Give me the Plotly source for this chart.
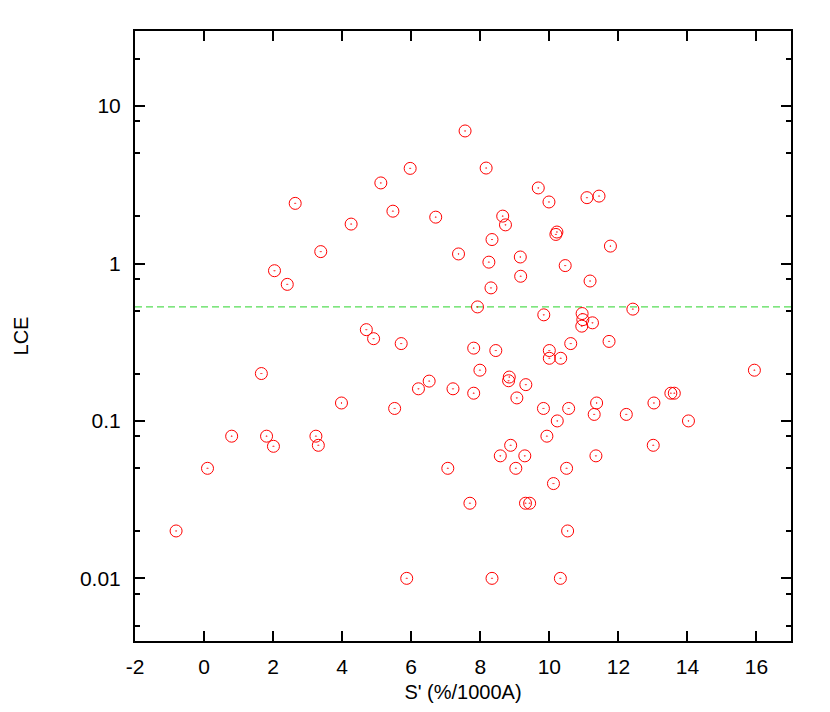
"""Scatter of LCE against S' on a log y axis."""

import plotly.graph_objects as go

# S' (%/1000A) values
s_prime = [
    7.56, 5.97, 8.17, 5.12, 9.68, 2.64, 9.99, 11.09, 11.44, 5.47,
    8.65, 6.71, 8.73, 4.26, 8.34, 10.22, 10.19, 11.77, 3.38, 7.37,
    9.16, 8.25, 10.46, 2.04, 9.17, 11.18, 2.41, 8.31, 7.92, 12.42,
    9.84, 10.95, 10.97, 10.94, 11.25, 4.70, 4.91, 5.71, 10.62, 11.73,
    7.81, 8.45, 10.00, 10.00, 10.33, 1.66, 7.99, 15.94, 6.52, 6.21,
    7.21, 8.84, 8.82, 9.32, 7.81, 9.06, 3.98, 11.37, 13.03, 13.52,
    13.62, 5.52, 9.83, 10.56, 11.30, 12.23, 0.80, 1.81, 3.24, 2.01,
    3.31, 14.03, 10.23, 9.93, 8.88, 13.01, 8.58, 9.29, 11.35, 0.10,
    7.06, 9.03, 10.50, 10.12, 7.70, 9.31, 9.43, -0.81, 10.53, 5.87,
    8.34, 10.32,
]

# LCE values
lce = [
    6.95, 4.02, 4.04, 3.25, 3.02, 2.41, 2.46, 2.62, 2.68, 2.15,
    2.00, 1.97, 1.76, 1.78, 1.42, 1.585, 1.53, 1.29, 1.19, 1.15,
    1.10, 1.02, 0.97, 0.90, 0.83, 0.774, 0.737, 0.70, 0.53, 0.513,
    0.472, 0.481, 0.44, 0.40, 0.42, 0.38, 0.333, 0.31, 0.31, 0.32,
    0.29, 0.28, 0.28, 0.25, 0.25, 0.20, 0.21, 0.21, 0.179, 0.16,
    0.16, 0.19, 0.18, 0.17, 0.15, 0.14, 0.13, 0.13, 0.13, 0.15,
    0.15, 0.12, 0.12, 0.12, 0.11, 0.11, 0.08, 0.08, 0.08, 0.069,
    0.07, 0.10, 0.10, 0.08, 0.07, 0.07, 0.06, 0.06, 0.06, 0.05,
    0.05, 0.05, 0.05, 0.04, 0.03, 0.03, 0.03, 0.02, 0.02, 0.01,
    0.01, 0.01,
]

lce_reference = 0.53

x_ticks = [-2, 0, 2, 4, 6, 8, 10, 12, 14, 16]
x_tick_text = ["-2", "0", "2", "4", "6", "8", "10", "12", "14", "16"]
y_major = [0.01, 0.1, 1, 10]
y_major_text = ["0.01", "0.1", "1", "10"]
y_minor = [0.005, 0.008, 0.02, 0.05, 0.08, 0.2, 0.5, 0.8, 2, 5, 8, 20]

font_family = "Liberation Sans, Arial, sans-serif"

fig = go.Figure()

fig.add_trace(
    go.Scatter(
        x=s_prime, y=lce,
        mode="markers",
        marker=dict(
            symbol="circle-open-dot", size=12, color="#ff0000",
            line=dict(width=1, color="#ff0000"),
        ),
        showlegend=False,
    )
)

# horizontal reference line
fig.add_shape(
    type="line", xref="paper", x0=0, x1=1, yref="y",
    y0=lce_reference, y1=lce_reference,
    line=dict(color="#55dd55", width=1.2, dash="7px,4px"),
    layer="below",
)

axis_common = dict(
    showline=True, linecolor="black", linewidth=2, mirror="ticks",
    ticks="inside", ticklen=10, tickwidth=2, tickcolor="black",
    showgrid=False, zeroline=False,
    tickfont=dict(family=font_family, size=21, color="black"),
    title_font=dict(family=font_family, size=20, color="black"),
)

# page body adds an offset, so the figure is a bit smaller than the window
fig.update_layout(
    width=822, height=704,
    margin=dict(l=123.5, r=39.3, t=23, b=65.7),
    plot_bgcolor="white", paper_bgcolor="white",
    xaxis=dict(
        range=[-2, 17], tickmode="array", tickvals=x_ticks,
        ticktext=x_tick_text,
        title=dict(text="S' (%/1000A)", standoff=8),
        ticklabelstandoff=6,
        **axis_common,
    ),
    yaxis=dict(
        type="log", range=[-2.398, 1.477],
        tickmode="array", tickvals=y_major, ticktext=y_major_text,
        minor=dict(tickvals=y_minor, ticks="inside", ticklen=5,
                   tickwidth=2, tickcolor="black"),
        title=dict(text="LCE", standoff=46),
        ticklabelstandoff=8,
        **axis_common,
    ),
)

fig.write_html("out.html")
